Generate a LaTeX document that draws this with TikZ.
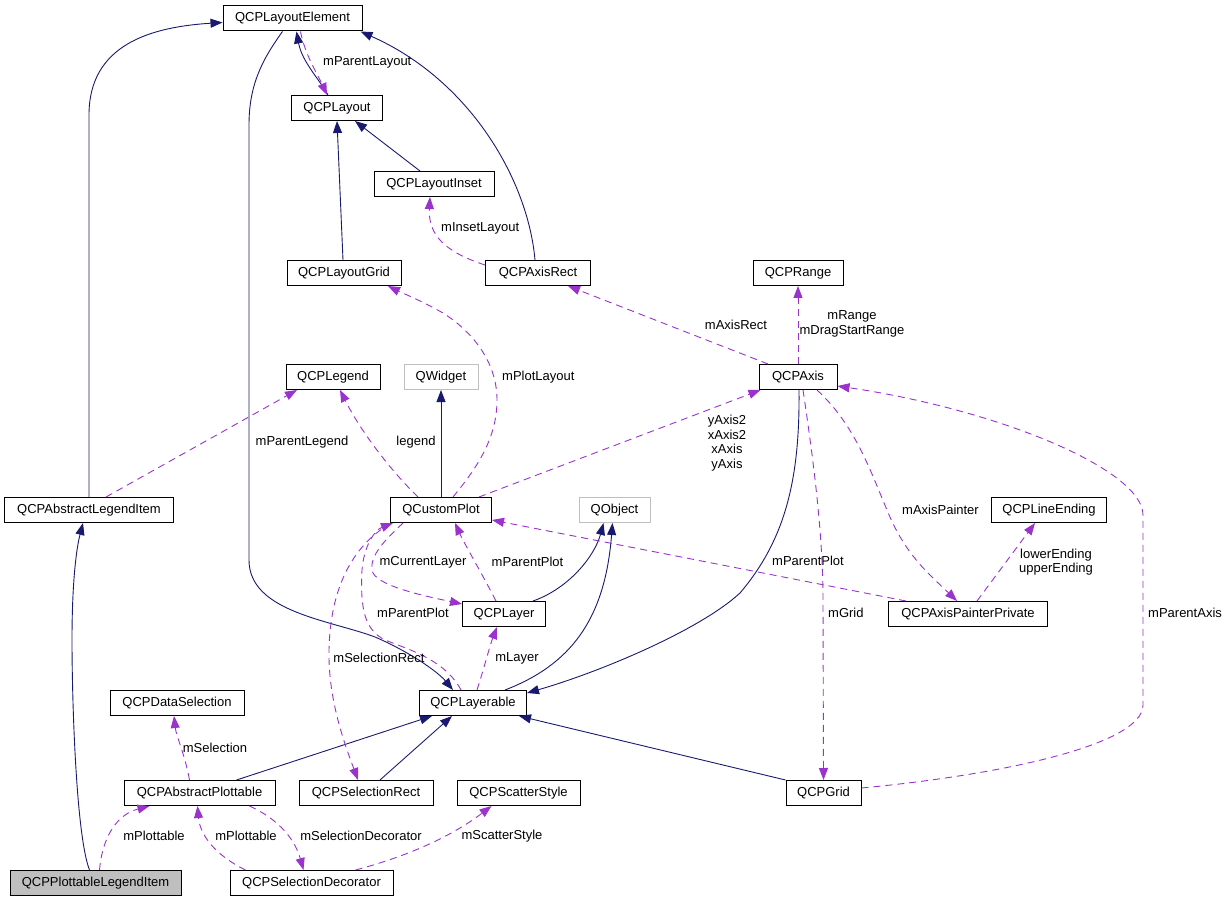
\documentclass[tikz,border=0pt]{standalone}
\usepackage{fontspec}
\setmainfont{Liberation Sans}
\usetikzlibrary{arrows.meta,calc}
\definecolor{cInh}{HTML}{191970}
\definecolor{cUse}{HTML}{9A32CD}
\definecolor{cExt}{HTML}{BFBFBF}
\begin{document}
\begin{tikzpicture}[x=1pt,y=-1pt,
  cls/.style={draw=black,line width=1pt,fill=white,minimum height=25pt,inner sep=0pt,font=\fontsize{13}{15}\selectfont},
  extcls/.style={cls,draw=cExt},
  inhedge/.style={draw=cInh,line width=0.9pt,-{Triangle[length=12pt,width=9pt]}},
  useedge/.style={draw=cUse,line width=0.9pt,dash pattern=on 7pt off 5pt,-{Triangle[length=12pt,width=9pt]}},
  lbl/.style={font=\fontsize{13}{14.7}\selectfont,inner sep=0pt,align=center}]
\useasboundingbox (0,0) rectangle (1229,901);

% nodes
\node[cls,minimum width=139pt] (le) at (292.5,18.5) {QCPLayoutElement};
\node[cls,minimum width=91pt] (lay) at (337,108) {QCPLayout};
\node[cls,minimum width=120pt] (ins) at (434,184) {QCPLayoutInset};
\node[cls,minimum width=114pt] (grid) at (344,273) {QCPLayoutGrid};
\node[cls,minimum width=105pt] (arect) at (538,273) {QCPAxisRect};
\node[cls,minimum width=90pt] (range) at (798,273) {QCPRange};
\node[cls,minimum width=94pt] (legend) at (333,377) {QCPLegend};
\node[extcls,minimum width=74pt] (qw) at (441,377) {QWidget};
\node[cls,minimum width=78pt] (axis) at (798,377) {QCPAxis};
\node[cls,minimum width=169pt] (ali) at (89,510) {QCPAbstractLegendItem};
\node[cls,minimum width=101pt] (cp) at (441,510) {QCustomPlot};
\node[extcls,minimum width=71pt] (qo) at (614.5,510) {QObject};
\node[cls,minimum width=115pt] (lend) at (1049,510) {QCPLineEnding};
\node[cls,minimum width=83pt] (layer) at (504,614) {QCPLayer};
\node[cls,minimum width=159pt] (app) at (968,614) {QCPAxisPainterPrivate};
\node[cls,minimum width=134pt] (dsel) at (177,703) {QCPDataSelection};
\node[cls,minimum width=107pt] (lyb) at (473,703) {QCPLayerable};
\node[cls,minimum width=151pt] (ap) at (199.5,793) {QCPAbstractPlottable};
\node[cls,minimum width=134pt] (srect) at (366,793) {QCPSelectionRect};
\node[cls,minimum width=123pt] (sstyle) at (518.5,793) {QCPScatterStyle};
\node[cls,minimum width=75pt] (gridn) at (823.5,793) {QCPGrid};
\node[cls,fill=cExt,minimum width=171pt] (pli) at (95.5,883) {QCPPlottableLegendItem};
\node[cls,minimum width=163pt] (sdec) at (311.5,883) {QCPSelectionDecorator};

% inheritance edges
\draw[inhedge] ([xshift=-9pt]lay.north) .. controls (320,80) and (302,62) .. ([xshift=4pt]le.south);
\draw[inhedge] ([xshift=-14pt]ins.north) -- ([xshift=18pt]lay.south);
\draw[inhedge] ([xshift=-1pt]grid.north) -- (lay.south);
\draw[inhedge] ([xshift=-3pt]arect.north) .. controls (528,180) and (470,80) .. ([xshift=-2pt]le.south east);
\draw[inhedge] (ali.north) -- (89,115) .. controls (89,45) and (150,27) .. ([yshift=-4pt]le.west);
\draw[inhedge] ([xshift=-10pt]le.south) .. controls (262,60) and (249,85) .. (249,125) -- (249,560)
   .. controls (249,612) and (330,620) .. (375,637) .. controls (410,652) and (438,672) .. ([xshift=-20pt]lyb.north);
\draw[inhedge] (cp.north) -- (qw.south);
\draw[inhedge] ([xshift=29pt]layer.north) .. controls (570,588) and (595,555) .. ([xshift=-11pt]qo.south);
\draw[inhedge] ([xshift=32pt]lyb.north) .. controls (570,665) and (605,620) .. ([xshift=-2pt]qo.south);
\draw[inhedge] ([xshift=37pt]ap.north) -- ([xshift=-41pt]lyb.south);
\draw[inhedge] ([xshift=14pt]srect.north) -- ([xshift=-21pt]lyb.south);
\draw[inhedge] (gridn.north west) -- ([xshift=46pt]lyb.south);
\draw[inhedge] ([xshift=1pt]axis.south) .. controls (800,480) and (785,540) .. (740,593)
   .. controls (700,630) and (600,672) .. ([yshift=10pt]lyb.east);
\draw[inhedge] ([xshift=-6pt]pli.north) .. controls (76,835) and (72,700) .. (72,640)
   .. controls (72,585) and (76,550) .. ([xshift=-6pt]ali.south);

% usage edges
\draw[useedge] ([xshift=8pt]le.south) .. controls (305,55) and (318,75) .. ([xshift=-10pt]lay.north);
\node[lbl,anchor=west] (tParentLayout) at (323,62.7) {mParentLayout};

\draw[useedge] ([yshift=8pt]arect.west) .. controls (445,252) and (428,235) .. ([xshift=-4pt]ins.south);
\node[lbl,anchor=west] (tInset) at (441,228) {mInsetLayout};

\draw[useedge] ([xshift=-30pt]axis.north) -- ([xshift=30pt]arect.south);
\node[lbl] (tAxisRect) at (736,325) {mAxisRect};

\draw[useedge] (axis.north) -- (range.south);
\node[lbl] (tRange) at (852,324) {mRange\\mDragStartRange};

\draw[useedge] ([xshift=12pt]cp.north) .. controls (475,470) and (497,440) .. (497,400)
   .. controls (497,360) and (470,330) .. (443,313) .. controls (420,300) and (400,292) .. ([xshift=44pt]grid.south);
\node[lbl,anchor=west] (tPlotLayout) at (502,377) {mPlotLayout};

\draw[useedge] ([xshift=-23pt]cp.north) .. controls (390,470) and (360,430) .. ([xshift=7pt]legend.south);
\node[lbl] (tLegend) at (416,442) {legend};

\draw[useedge] ([xshift=17pt]ali.north) -- ([xshift=-36pt]legend.south);
\node[lbl] (tParentLegend) at (302,442) {mParentLegend};

\draw[useedge] ([xshift=38pt]cp.north) -- ([xshift=2pt]axis.south west);
\node[lbl] (tAxes) at (727,443) {yAxis2\\xAxis2\\xAxis\\yAxis};

\draw[useedge] ([xshift=-8pt]layer.north) .. controls (480,570) and (465,545) .. ([xshift=14pt]cp.south);
\node[lbl] (tPP1) at (527.5,561.7) {mParentPlot};

\draw[useedge] ([xshift=-38pt]cp.south) .. controls (385,540) and (370,555) .. (372,570)
   .. controls (374,585) and (420,595) .. ([yshift=10pt]layer.west);
\node[lbl] (tCurLayer) at (423,562) {mCurrentLayer};

\draw[useedge] ([xshift=-12pt]lyb.north) .. controls (445,660) and (410,650) .. (385,640)
   .. controls (365,630) and (360,610) .. (362,570) .. controls (364,545) and (375,530) .. ([xshift=-48pt]cp.south);
\node[lbl] (tPP2) at (413,613) {mParentPlot};

\draw[useedge] ([xshift=-50pt]cp.south) .. controls (345,550) and (330,600) .. (329,650)
   .. controls (328,700) and (345,745) .. ([xshift=-8pt]srect.north);
\node[lbl] (tSelRect) at (379,658) {mSelectionRect};

\draw[useedge] ([xshift=-62pt]app.north) -- ([yshift=-10pt]cp.east);
\node[lbl] (tPP3) at (808,561) {mParentPlot};

\draw[useedge] ([xshift=19pt]axis.south) .. controls (855,425) and (870,470) .. (887,510)
   .. controls (905,555) and (930,575) .. ([xshift=-11pt]app.north);
\node[lbl] (tPainter) at (940.5,510) {mAxisPainter};

\draw[useedge] ([xshift=9pt]app.north) -- ([xshift=-14pt]lend.south);
\node[lbl] (tEnding) at (1056,562) {lowerEnding\\upperEnding};

\draw[useedge] ([xshift=5pt]axis.south) .. controls (815,470) and (823,540) .. (823,600) -- (gridn.north);
\node[lbl,anchor=west] (tGrid) at (828,613) {mGrid};

\draw[useedge] ([yshift=5pt]gridn.east) .. controls (1000,775) and (1143,745) .. (1143,705) -- (1143,515)
   .. controls (1143,470) and (1000,410) .. ([yshift=-9pt]axis.east);
\node[lbl,anchor=west] (tParentAxis) at (1148,613) {mParentAxis};

\draw[useedge] ([xshift=4pt]lyb.north) .. controls (485,665) and (490,645) .. ([xshift=-7pt]layer.south);
\node[lbl] (tLayer) at (517,658) {mLayer};

\draw[useedge] ([xshift=-10pt]ap.north) .. controls (185,755) and (176,735) .. ([xshift=-3pt]dsel.south);
\node[lbl] (tSel) at (215,748) {mSelection};

\draw[useedge] ([xshift=4pt]pli.north) .. controls (102,840) and (115,815) .. ([xshift=-50pt]ap.south);
\node[lbl] (tPl1) at (154,836) {mPlottable};

\draw[useedge] ([xshift=-66pt]sdec.north) .. controls (215,855) and (200,835) .. ([xshift=-2pt]ap.south);
\node[lbl] (tPl2) at (246,836) {mPlottable};

\draw[useedge] ([xshift=50pt]ap.south) .. controls (280,820) and (295,840) .. ([xshift=-8pt]sdec.north);
\node[lbl] (tSelDec) at (361,836) {mSelectionDecorator};

\draw[useedge] ([xshift=44pt]sdec.north) .. controls (420,853) and (460,830) .. ([xshift=-27pt]sstyle.south);
\node[lbl] (tScatter) at (502,836) {mScatterStyle};
\end{tikzpicture}
\end{document}
